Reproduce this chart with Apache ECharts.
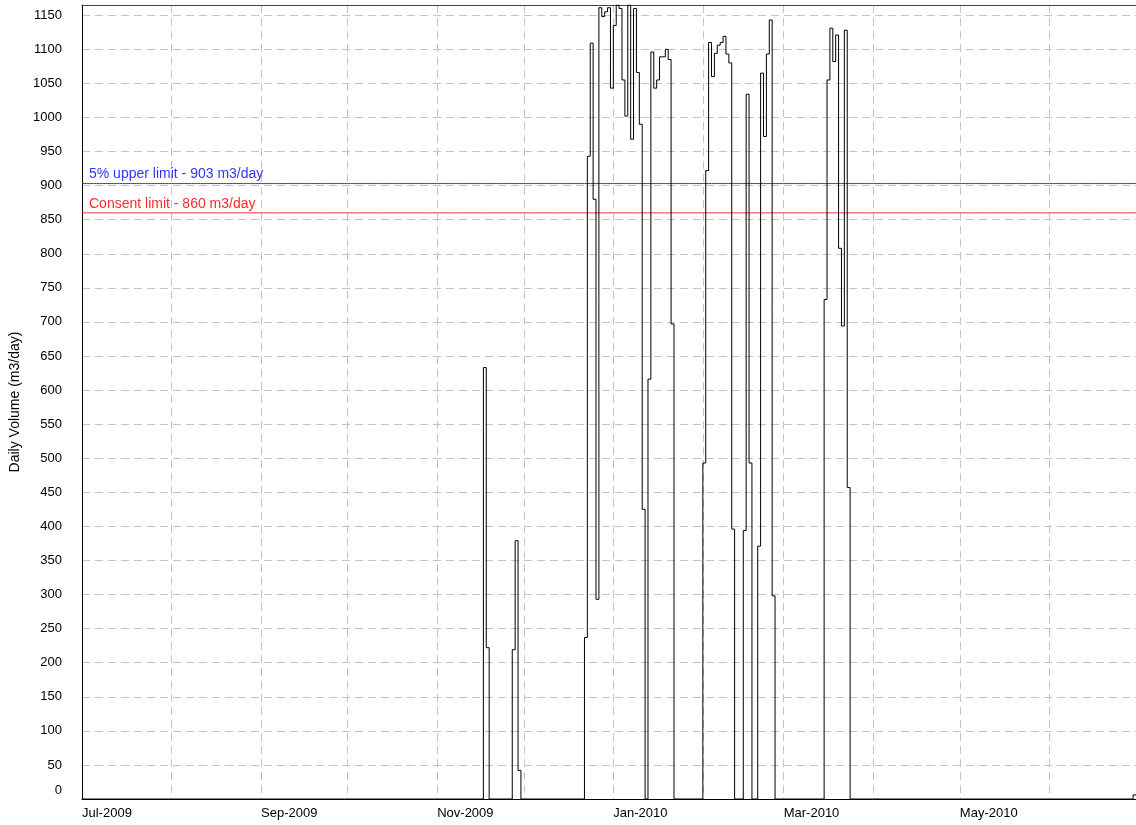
<!DOCTYPE html>
<html><head><meta charset="utf-8">
<script src="https://cdn.jsdelivr.net/npm/echarts@6/dist/echarts.min.js"></script>
<style>html,body{margin:0;padding:0;background:#fff}#c{width:1136px;height:825px}</style>
</head><body><div id="c"></div>
<script>
// ---- data ----
const periodStart = [2009, 7, 1];
const periodEnd = [2010, 7, 1];
const monthNames = ['Jan','Feb','Mar','Apr','May','Jun','Jul','Aug','Sep','Oct','Nov','Dec'];
const xTickLabels = ['Jul-2009','Sep-2009','Nov-2009','Jan-2010','Mar-2010','May-2010'];
const yAxisName = 'Daily Volume (m3/day)';
const upperLimit = 903;
const upperLimitLabel = '5% upper limit - 903 m3/day';
const consentLimit = 860;
const consentLimitLabel = 'Consent limit - 860 m3/day';

// daily volumes (m3/day) for each run of non-zero days; other days are 0
const burstStarts = ['2009-11-17','2009-11-27','2009-12-22','2010-01-13','2010-02-01','2010-02-15','2010-02-20','2010-03-15','2010-06-30'];
const burstNov17 = [633, 222];
const burstNov27 = [219, 379, 42];
const burstDec22 = [237, 943, 1109, 880, 293, 1161, 1148, 1155, 1161, 1043, 1135, 1165, 1160, 1055, 1002, 1165, 968, 1160, 1066, 990, 425];
const burstJan13 = [616, 1096, 1043, 1055, 1089, 1089, 1100, 1085, 697];
const burstFeb01 = [493, 922, 1110, 1060, 1094, 1106, 1110, 1119, 1093, 1080, 396];
const burstFeb15 = [394, 1034, 493];
const burstFeb20 = [371, 1065, 972, 1093, 1143, 298];
const burstMar15 = [733, 1055, 1131, 1082, 1121, 808, 694, 1128, 457];
const burstJun30 = [6, 6];
const bursts = [burstNov17, burstNov27, burstDec22, burstJan13, burstFeb01, burstFeb15, burstFeb20, burstMar15, burstJun30];

// ---- build daily table ----
function pad(n){ return (n < 10 ? '0' : '') + n; }
const days = [];
{
  let t = Date.UTC(periodStart[0], periodStart[1]-1, periodStart[2]);
  const tEnd = Date.UTC(periodEnd[0], periodEnd[1]-1, periodEnd[2]);
  while (t <= tEnd) {
    const d = new Date(t);
    days.push(d.getUTCFullYear() + '-' + pad(d.getUTCMonth()+1) + '-' + pad(d.getUTCDate()));
    t += 86400000;
  }
}
const volumes = days.map(() => 0);
burstStarts.forEach((s, k) => {
  const i0 = days.indexOf(s);
  bursts[k].forEach((v, j) => { if (i0 + j < volumes.length) volumes[i0 + j] = v; });
});

function fmtMonth(v){ const p = v.split('-'); return monthNames[+p[1]-1] + '-' + p[0]; }
const lastIdx = days.length - 1;

const font = 'Liberation Sans, Arial, Helvetica, sans-serif';
function limitLine(value, color){
  return {
    type: 'line', data: days.map(() => value), symbol: 'none', showSymbol: false, silent: true,
    lineStyle: {color: color, width: 1, type: 'solid'},
    itemStyle: {color: color},
    z: 3
  };
}
function limitLabel(value, label, color){
  return {
    type: 'line', data: [], symbol: 'none', silent: true, z: 1,
    markLine: {
      silent: true, symbol: 'none', animation: false,
      lineStyle: {color: 'rgba(0,0,0,0)', width: 1, type: 'solid'},
      label: {show: true, formatter: label, position: 'insideStartTop', distance: [7, 2],
              color: color, fontSize: 14, fontFamily: font},
      data: [{yAxis: value, lineStyle: {color: 'rgba(0,0,0,0)'}}]
    }
  };
}
const chart = echarts.init(document.getElementById('c'), null, {renderer: 'canvas'});
chart.setOption({
  animation: false,
  backgroundColor: '#ffffff',
  grid: {left: 82, right: 0, top: 5, bottom: 26, containLabel: false},
  xAxis: [{
    type: 'category',
    data: days,
    boundaryGap: false,
    axisLine: {show: true, lineStyle: {color: '#000', width: 1}},
    axisTick: {show: false},
    axisLabel: {
      interval: (i, v) => i !== lastIdx && v.endsWith('-01') && xTickLabels.includes(fmtMonth(v)),
      formatter: v => fmtMonth(v),
      align: 'left',
      margin: 8,
      color: '#000', fontSize: 13, fontFamily: font
    },
    splitLine: {
      show: true,
      interval: (i, v) => i !== 0 && i !== lastIdx && v.endsWith('-01'),
      lineStyle: {color: '#c4c4c4', type: [8, 5], width: 1}
    }
  }, {
    type: 'category',
    data: days,
    position: 'top',
    boundaryGap: false,
    axisLine: {show: true, lineStyle: {color: '#444', width: 1}},
    axisTick: {show: false},
    axisLabel: {show: false},
    splitLine: {show: false}
  }],
  yAxis: {
    type: 'value',
    min: 0, max: 1165, interval: 50,
    name: yAxisName,
    nameLocation: 'middle',
    nameGap: 55,
    nameTextStyle: {color: '#000', fontSize: 14, fontFamily: font},
    axisLine: {show: true, lineStyle: {color: '#000', width: 1}},
    axisTick: {show: false},
    axisLabel: {
      showMaxLabel: false,
      color: '#000', fontSize: 13, fontFamily: font, margin: 20,
      formatter: v => v === 0 ? '{z|0}' : String(v),
      rich: {z: {color: '#000', fontSize: 13, fontFamily: font, padding: [0, 0, 18, 0]}}
    },
    splitLine: {show: true, lineStyle: {color: '#c4c4c4', type: [8, 5], width: 1}}
  },
  series: [
    limitLabel(upperLimit, upperLimitLabel, '#3333ff'),
    limitLabel(consentLimit, consentLimitLabel, '#ff2a2a'),
    limitLine(upperLimit, '#3333ff'),
    limitLine(consentLimit, '#ff2a2a'),
    {
      type: 'line',
      step: 'end',
      data: volumes,
      symbol: 'none',
      z: 4,
      lineStyle: {color: '#000', width: 1}
    }
  ]
});
</script></body></html>
